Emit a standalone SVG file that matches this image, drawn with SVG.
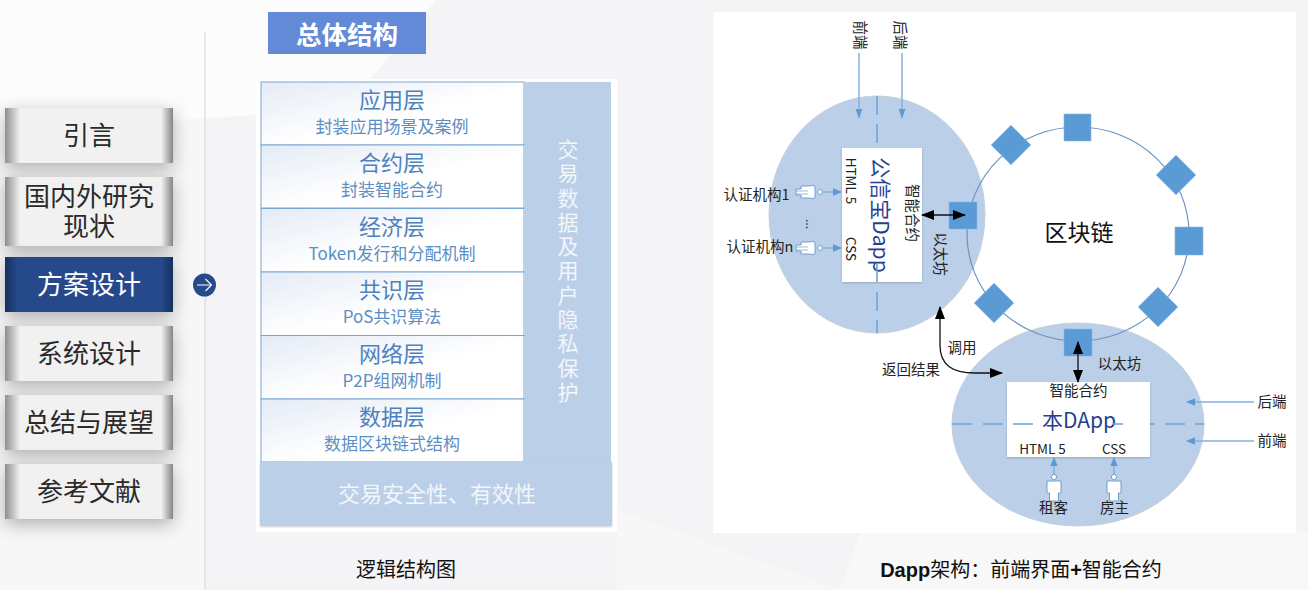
<svg xmlns="http://www.w3.org/2000/svg" width="1308" height="590" viewBox="0 0 1308 590">
<style>
text{font-family:"Noto Sans CJK SC","Liberation Sans",sans-serif;text-anchor:middle}
.nav{font-size:26px;fill:#2a2a2a}
.lt{font-size:22px;fill:#4f81bd}
.ls{font-size:17px;fill:#5b8ec4}
.side{font-size:21px;fill:#f3f6fb}
.lay{fill:url(#layG);stroke:#7ba6d2;stroke-width:1}
.band{fill:#bbcfe8}
.blob{fill:#bbcfe8;stroke:#c6d0dd;stroke-width:1}
.sq{fill:#5b9bd5;stroke:#8db6de;stroke-width:.6}
.lab{font-size:14.5px;fill:#222}
.sm{font-size:13.5px;fill:#222}
.blue{font-size:21px;fill:#1f3f8f}
.dash{stroke:#6aa5dc;stroke-width:1.6;fill:none}
.ba{stroke:#7fb3e3;stroke-width:1.5;fill:none;marker-end:url(#bs)}
.bt{stroke:#7fb3e3;stroke-width:1.5;fill:none;marker-end:url(#bh)}
.kb{stroke:#111;stroke-width:1.3;fill:none;marker-end:url(#kh);marker-start:url(#ks)}
.hand{fill:#fff;stroke:#6f9fcf;stroke-width:1}
</style>
<defs>
<linearGradient id="layG" x1="0" y1="0" x2="1" y2="1"><stop offset="0" stop-color="#e4ebf6"/><stop offset=".55" stop-color="#fff"/></linearGradient>
<linearGradient id="btn"><stop offset="0" stop-color="#8e8e8e"/><stop offset=".09" stop-color="#f1f1f2"/><stop offset=".93" stop-color="#f1f1f2"/><stop offset="1" stop-color="#858585"/></linearGradient>
<linearGradient id="btnA"><stop offset="0" stop-color="#16305f"/><stop offset=".08" stop-color="#264a8c"/><stop offset=".93" stop-color="#264a8c"/><stop offset="1" stop-color="#16305f"/></linearGradient>
<filter id="sh" x="-20%" y="-40%" width="140%" height="190%"><feDropShadow dx="0" dy="5" stdDeviation="9" flood-color="#000" flood-opacity=".3"/></filter>
<filter id="s2" x="-5%" y="-5%" width="110%" height="110%"><feDropShadow dx="0" dy="1" stdDeviation="1" flood-color="#000" flood-opacity=".2"/></filter>
<marker id="bh" markerWidth="10" markerHeight="14" refX="12" refY="4.500" orient="auto" markerUnits="userSpaceOnUse" viewBox="0 0 13 9"><path d="M0 0L13 4.500L0 9Z" fill="#5b9bd5"/></marker>
<marker id="bs" markerWidth="9" markerHeight="8" refX="8" refY="3.700" orient="auto" markerUnits="userSpaceOnUse"><path d="M0 0L9 3.700L0 7.400Z" fill="#5b9bd5"/></marker>
<marker id="kh" markerWidth="13" markerHeight="10" refX="12" refY="5" orient="auto" markerUnits="userSpaceOnUse"><path d="M0 0L13 5L0 10Z" fill="#000"/></marker>
<marker id="ks" markerWidth="13" markerHeight="10" refX="1" refY="5" orient="auto" markerUnits="userSpaceOnUse"><path d="M13 0L0 5L13 10Z" fill="#000"/></marker>
<g id="hd"><path class="hand" d="M-7-6H0Q4-7 7-6V6Q4 7 0 6H-7V3H-12V-3H-7Z"/><path d="M-12-1H0M-12 2H0" stroke="#6f9fcf" stroke-width=".7"/><circle cx="12" cy="0" r="2.400" fill="#fff" stroke="#6f9fcf"/></g>
<g id="pp"><circle cx="0" cy="-12" r="2.600" fill="#fff" stroke="#6f9fcf"/><path class="hand" d="M-7-8H7V4H4.500V12H-4.500V4H-7Z"/></g>
</defs>
<rect width="1308" height="590" fill="#f4f4f6"/>
<path d="M0 0H436L345 110L205 118L0 135Z" fill="#fcfcfc"/>
<path d="M0 135L205 118V590H0Z" fill="#f7f7f8"/>
<path d="M617 510L840 590H617Z" fill="#f7f7f8"/>
<path d="M860 533H1308V590H840Z" fill="#f8f8f9"/>
<path d="M205 32V590" stroke="#d6d6d9"/>
<g id="n1"><rect x="5" y="108" width="168" height="55" fill="url(#btn)" filter="url(#sh)"/><text class="nav" x="89" y="145">引言</text></g>
<g id="n2"><rect x="5" y="177" width="168" height="69" fill="url(#btn)" filter="url(#sh)"/><text class="nav"><tspan x="89" y="206">国内外研究</tspan><tspan x="89" y="236">现状</tspan></text></g>
<g id="n3"><rect x="5" y="257" width="168" height="55" fill="url(#btnA)" filter="url(#sh)"/><text class="nav" x="89" y="294" style="fill:#fff">方案设计</text></g>
<g id="n4"><rect x="5" y="326" width="168" height="55" fill="url(#btn)" filter="url(#sh)"/><text class="nav" x="89" y="363">系统设计</text></g>
<g id="n5"><rect x="5" y="395" width="168" height="55" fill="url(#btn)" filter="url(#sh)"/><text class="nav" x="89" y="432">总结与展望</text></g>
<g id="n6"><rect x="5" y="464" width="168" height="55" fill="url(#btn)" filter="url(#sh)"/><text class="nav" x="89" y="501">参考文献</text></g>
<g id="cur"><circle cx="204.500" cy="285" r="11.500" fill="#264a8c"/><path d="M197 285H211M205.500 279L211.500 285L205.500 291" stroke="#fff" stroke-width="1.100" fill="none"/></g>
<g id="title"><rect x="268" y="12" width="158" height="42" fill="#628ad6"/><text x="347" y="44" font-size="25.500" font-weight="700" fill="#fff">总体结构</text></g>
<rect x="256" y="79" width="361" height="453" fill="#fff"/>
<g id="l1"><rect class="lay" x="261" y="82" width="263" height="63"/><text class="lt" x="392" y="108">应用层</text><text class="ls" x="392" y="133">封装应用场景及案例</text></g>
<g id="l2"><rect class="lay" x="261" y="145" width="263" height="63"/><text class="lt" x="392" y="171">合约层</text><text class="ls" x="392" y="196">封装智能合约</text></g>
<g id="l3"><rect class="lay" x="261" y="208.500" width="263" height="63.500"/><text class="lt" x="392" y="235">经济层</text><text class="ls" x="392" y="260">Token发行和分配机制</text></g>
<g id="l4"><rect class="lay" x="261" y="272" width="263" height="63.500"/><text class="lt" x="392" y="298">共识层</text><text class="ls" x="392" y="323">PoS共识算法</text></g>
<g id="l5"><rect class="lay" x="261" y="335.500" width="263" height="63.500"/><text class="lt" x="392" y="362">网络层</text><text class="ls" x="392" y="387">P2P组网机制</text></g>
<g id="l6"><rect class="lay" x="261" y="399" width="263" height="63"/><text class="lt" x="392" y="425">数据层</text><text class="ls" x="392" y="450">数据区块链式结构</text></g>
<g id="privacy"><rect class="band" x="525" y="82" width="86" height="381"/>
<text class="side" x="568" y="138.500" style="writing-mode:vertical-rl;text-orientation:upright;text-anchor:start;letter-spacing:3.300px">交易数据及用户隐私保护</text></g>
<g id="safety"><rect class="band" x="260" y="462" width="352" height="64" filter="url(#s2)"/><text class="side" x="437" y="502" style="font-size:22px">交易安全性、有效性</text></g>
<text x="406" y="577" font-size="20" fill="#111">逻辑结构图</text>
<rect x="713" y="12" width="583" height="521" fill="#fff"/>
<g id="dapp1"><ellipse class="blob" cx="877" cy="214.500" rx="108" ry="118.500"/></g>
<g id="dapp2"><ellipse class="blob" cx="1078" cy="424.500" rx="126" ry="101.500"/></g>
<g id="chain"><ellipse cx="1078" cy="234" rx="111" ry="107" fill="none" stroke="#6b93c2" stroke-width="1.200"/>
<text x="1079" y="241" font-size="23" fill="#111">区块链</text></g>
<g id="nodes"><rect class="sq" x="949" y="202" width="28" height="27"/><rect class="sq" x="1064" y="114" width="27" height="27"/><rect class="sq" x="1175" y="227" width="28" height="28"/><rect class="sq" x="1064" y="329" width="28" height="27"/>
<rect class="sq" x="997" y="131" width="28" height="28" transform="rotate(45 1011 145)"/><rect class="sq" x="1162" y="161" width="28" height="28" transform="rotate(45 1176 175)"/><rect class="sq" x="980" y="289" width="28" height="28" transform="rotate(45 994 303)"/><rect class="sq" x="1144" y="293" width="28" height="28" transform="rotate(45 1158 307)"/></g>
<g id="connectors">
<path class="dash" d="M877 96V115M877 124V143M877 292V311M877 320V333M952 424H972M983 424H1003"/>
<path class="dash" d="M1155 424H1135M1185 424H1165M1204 424H1195"/>
</g>
<g id="box1"><rect x="842" y="148" width="80" height="134" fill="#fff" filter="url(#s2)"/>
<text class="sm" transform="translate(846 181) rotate(90)">HTML 5</text>
<text class="sm" transform="translate(846 249) rotate(90)">CSS</text>
<text class="blue" transform="translate(873 215) rotate(90)">公信宝Dapp</text>
<text class="lab" transform="translate(907 213) rotate(90)">智能合约</text></g>
<text class="lab" transform="translate(935 254) rotate(90)">以太坊</text>
<g id="box2"><rect x="1007" y="382" width="143" height="75" fill="#fff" filter="url(#s2)"/>
<text class="lab" x="1078.500" y="396">智能合约</text><text class="blue" x="1079" y="428">本DApp</text>
<text class="sm" x="1042.500" y="454">HTML 5</text><text class="sm" x="1114" y="454">CSS</text></g>
<g id="connectors2">
<path class="dash" d="M877 264V282M1013 424H1033M1113 424H1123"/>
<path class="bt" d="M859 53V118"/><path class="bt" d="M902 53V118"/>
<path class="ba" d="M823 192H841"/><path class="ba" d="M823 248H841"/>
<path class="ba" d="M1254 402H1187"/><path class="ba" d="M1254 441H1187"/>
<path class="ba" d="M1054 475V458"/><path class="ba" d="M1114 475V458"/>
<path class="kb" d="M922 215H965"/>
<path class="kb" d="M1078 382V342"/>
<path class="kb" d="M940 307V345C940 365 952 373 975 373H1002"/>
</g>
<g id="labels">
<text class="lab" transform="translate(855 35) rotate(90)">前端</text><text class="lab" transform="translate(895 35) rotate(90)">后端</text>
<text class="lab" x="756.500" y="200">认证机构1</text><text class="lab" x="760" y="252">认证机构n</text>
<text class="lab" transform="translate(806 224) rotate(90)" style="font-size:12px">...</text>
<text class="lab" x="962" y="353">调用</text><text class="lab" x="911" y="375">返回结果</text><text class="lab" x="1119.500" y="369">以太坊</text>
<text class="lab" x="1272" y="407">后端</text><text class="lab" x="1272" y="446">前端</text>
<text class="lab" x="1053.500" y="513">租客</text><text class="lab" x="1114.500" y="513">房主</text>
</g>
<g id="actors"><use href="#hd" x="808" y="192"/><use href="#hd" x="808" y="248"/>
<use href="#pp" x="1054" y="489"/><use href="#pp" x="1114" y="489"/></g>
<text x="1021" y="577" font-size="20" fill="#111"><tspan font-weight="700" font-family="Liberation Sans">Dapp</tspan>架构：前端界面<tspan font-weight="700" font-family="Liberation Sans">+</tspan>智能合约</text>
</svg>
